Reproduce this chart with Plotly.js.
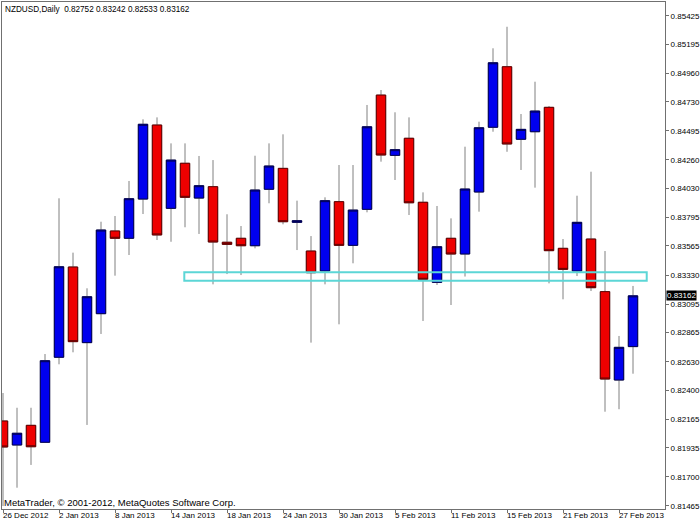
<!DOCTYPE html>
<html>
<head>
<meta charset="utf-8">
<script src="https://cdn.plot.ly/plotly-3.0.1.min.js"></script>
<style>
html,body{margin:0;padding:0;background:#ffffff;}
#chart{width:700px;height:525px;}
</style>
</head>
<body>
<div id="chart"></div>
<script>
// ---- data ----
const symbol = "NZDUSD,Daily";
const dates = [
  "2012-12-26","2012-12-27","2012-12-28","2012-12-31",
  "2013-01-02","2013-01-03","2013-01-04","2013-01-07","2013-01-08","2013-01-09","2013-01-10","2013-01-11",
  "2013-01-14","2013-01-15","2013-01-16","2013-01-17","2013-01-18","2013-01-21","2013-01-22","2013-01-23",
  "2013-01-24","2013-01-25","2013-01-28","2013-01-29","2013-01-30","2013-01-31",
  "2013-02-01","2013-02-04","2013-02-05","2013-02-06","2013-02-07","2013-02-08","2013-02-11","2013-02-12",
  "2013-02-13","2013-02-14","2013-02-15","2013-02-18","2013-02-19","2013-02-20","2013-02-21","2013-02-22",
  "2013-02-25","2013-02-26","2013-02-27","2013-02-28"
];
const opens = [
  0.82151,0.81957,0.82116,0.81979,0.82666,0.83395,0.82784,0.83018,0.83686,0.83627,
  0.83944,0.84542,0.83869,0.84233,0.83952,0.84044,0.83595,0.83627,0.83567,0.84023,
  0.84192,0.83756,0.83524,0.83363,0.83923,0.83570,0.83861,0.84784,0.84297,0.84435,
  0.83918,0.83271,0.83627,0.83500,0.84001,0.84524,0.85013,0.84427,0.84488,0.84685,
  0.83546,0.83363,0.83621,0.83196,0.82482,0.82752
];
const highs = [
  0.82377,0.82258,0.82258,0.82692,0.83950,0.83511,0.83223,0.83761,0.83807,0.84090,
  0.84588,0.84604,0.84394,0.84394,0.84292,0.84259,0.83821,0.83726,0.84294,0.84394,
  0.84467,0.83931,0.83645,0.83958,0.84219,0.84219,0.84704,0.84825,0.84645,0.84604,
  0.83998,0.83888,0.83788,0.84367,0.84569,0.85162,0.85336,0.84631,0.84892,0.84696,
  0.83621,0.83971,0.84165,0.83524,0.82838,0.83242
];
const lows = [
  0.81464,0.81612,0.81796,0.81975,0.82609,0.82706,0.82119,0.82854,0.83325,0.83492,
  0.83823,0.83613,0.83599,0.83716,0.83662,0.83255,0.83338,0.83330,0.83546,0.83910,
  0.83740,0.83532,0.82784,0.83255,0.82932,0.83425,0.83837,0.84246,0.84098,0.83815,
  0.82959,0.83250,0.83088,0.83318,0.83842,0.84488,0.84326,0.84179,0.84036,0.83263,
  0.83134,0.83322,0.83201,0.82226,0.82246,0.82533
];
const closes = [
  0.81941,0.82052,0.81943,0.82638,0.83397,0.82792,0.83155,0.83694,0.83627,0.83947,
  0.84548,0.83654,0.84259,0.83958,0.84052,0.83597,0.83578,0.83567,0.84017,0.84211,
  0.83761,0.83769,0.83349,0.83931,0.83570,0.83855,0.84528,0.84300,0.84343,0.83914,
  0.83296,0.83559,0.83500,0.84025,0.84520,0.85045,0.84389,0.84507,0.84655,0.83527,
  0.83376,0.83756,0.83228,0.82490,0.82746,0.83162
];
const tickDates = ["2012-12-26","2013-01-02","2013-01-08","2013-01-14","2013-01-18","2013-01-24",
                   "2013-01-30","2013-02-05","2013-02-11","2013-02-15","2013-02-21","2013-02-27"];
const tickLabels = ["26 Dec 2012","2 Jan 2013","8 Jan 2013","14 Jan 2013","18 Jan 2013","24 Jan 2013",
                    "30 Jan 2013","5 Feb 2013","11 Feb 2013","15 Feb 2013","21 Feb 2013","27 Feb 2013"];
const priceTicks = [0.81465,0.81700,0.81935,0.82165,0.82400,0.82630,0.82865,0.83095,0.83330,
                    0.83565,0.83795,0.84030,0.84260,0.84495,0.84730,0.84960,0.85195,0.85425];
const zonePrices = [0.83285, 0.83352];     // support zone (low, high)
const zoneBars = [12.95, 45.98];           // support zone bar span
const copyright = "MetaTrader, \u00A9 2001-2012, MetaQuotes Software Corp.";

// ---- build ----
const idx = dates.map((d, i) => i);
const bodyHigh = opens.map((o, i) => Math.max(o, closes[i]));
const bodyLow = opens.map((o, i) => Math.min(o, closes[i]));
const tickIdx = tickDates.map(d => dates.indexOf(d));
const n = dates.length;
const fmt = v => v.toFixed(5);

const FONT = "Liberation Sans, Arial, sans-serif";
const upFill = "#0000ee", downFill = "#ee0000";

const wicks = {
  type: "candlestick", x: idx, open: opens, high: highs, low: lows, close: closes,
  increasing: {line: {color: "#808080", width: 1}, fillcolor: upFill},
  decreasing: {line: {color: "#808080", width: 1}, fillcolor: downFill},
  whiskerwidth: 0, hoverinfo: "skip", showlegend: false
};
const bodies = {
  type: "candlestick", x: idx, open: opens, high: bodyHigh, low: bodyLow, close: closes,
  increasing: {line: {color: "#000050", width: 1}, fillcolor: upFill},
  decreasing: {line: {color: "#600000", width: 1}, fillcolor: downFill},
  whiskerwidth: 0, hoverinfo: "skip", showlegend: false
};

const annotations = tickIdx.map((t, k) => ({
  xref: "x", yref: "paper", x: t, y: 0, xanchor: "left", yanchor: "top",
  text: tickLabels[k], showarrow: false, font: {family: FONT, size: 8, color: "#000"},
  yshift: -1, xshift: -1, borderpad: 0
}));
annotations.push({
  xref: "paper", yref: "paper", x: 0, y: 1, xanchor: "left", yanchor: "top",
  text: symbol + "  " + [opens[n-1], highs[n-1], lows[n-1], closes[n-1]].map(fmt).join(" "),
  showarrow: false, font: {family: FONT, size: 8.2, color: "#000"}, xshift: 2, yshift: -2, borderpad: 0
});
annotations.push({
  xref: "paper", yref: "paper", x: 0, y: 0, xanchor: "left", yanchor: "bottom",
  text: copyright, showarrow: false, font: {family: FONT, size: 9.5, color: "#000"},
  xshift: 1, yshift: 0, borderpad: 0
});
annotations.push({
  xref: "paper", yref: "y", x: 1, y: closes[n-1], xanchor: "left", yanchor: "middle",
  text: fmt(closes[n-1]), showarrow: false, font: {family: FONT, size: 8, color: "#fff"},
  bgcolor: "#000", borderpad: 0, xshift: 1
});

const layout = {
  width: 700, height: 525,
  margin: {l: 2, r: 35, t: 2, b: 16, pad: 0},
  paper_bgcolor: "#fff", plot_bgcolor: "#fff",
  showlegend: false, dragmode: false,
  boxgap: 0.33, boxgroupgap: 0,
  xaxis: {
    type: "linear", range: [-0.0714, 47.286], rangeslider: {visible: false},
    showgrid: false, zeroline: false,
    showline: true, mirror: true, linecolor: "#707070", linewidth: 1,
    tickmode: "array", tickvals: tickIdx, showticklabels: false,
    ticks: "outside", ticklen: 3, tickcolor: "#707070", tickwidth: 1
  },
  yaxis: {
    side: "right", range: [0.81440, 0.85536],
    showgrid: false, zeroline: false,
    showline: true, mirror: true, linecolor: "#707070", linewidth: 1,
    tickmode: "array", tickvals: priceTicks, ticktext: priceTicks.map(fmt),
    ticks: "outside", ticklen: 3, tickcolor: "#707070", tickwidth: 1,
    tickfont: {family: FONT, size: 8, color: "#000"}
  },
  shapes: [{
    type: "rect", xref: "x", yref: "y", layer: "above",
    x0: zoneBars[0], x1: zoneBars[1], y0: zonePrices[0], y1: zonePrices[1],
    line: {color: "#5cd6d6", width: 2}, fillcolor: "rgba(0,0,0,0)"
  }],
  annotations: annotations
};

Plotly.newPlot("chart", [wicks, bodies], layout, {staticPlot: true, displayModeBar: false});
</script>
</body>
</html>
